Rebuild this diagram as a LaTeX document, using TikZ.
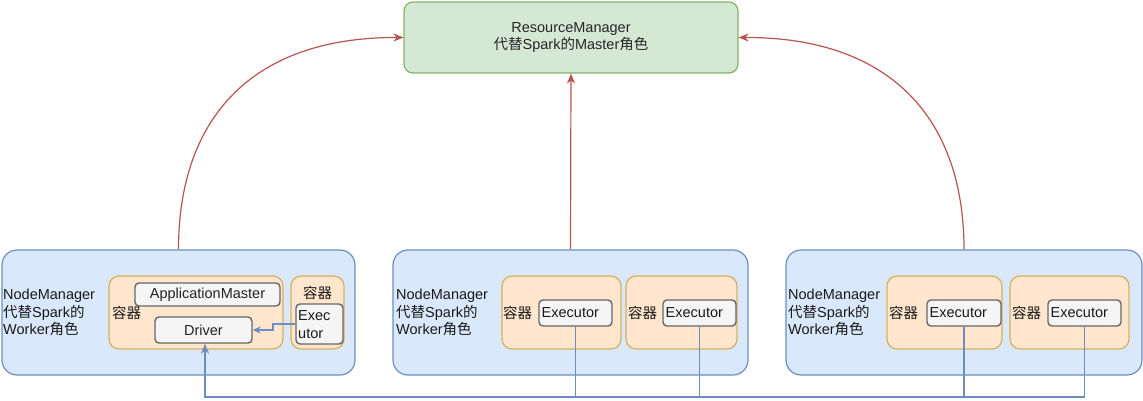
\documentclass[tikz,border=0pt]{standalone}
\usepackage{fontspec}
\setmainfont{Liberation Sans}
\newfontfamily\cjkf{Noto Sans CJK SC}
\newcommand{\zhs}[1]{{\cjkf #1}}
\usetikzlibrary{arrows.meta}
\definecolor{bfill}{HTML}{DAE8FC}
\definecolor{bline}{HTML}{6C8EBF}
\definecolor{ofill}{HTML}{FFE6CC}
\definecolor{oline}{HTML}{D6B060}
\definecolor{gfill}{HTML}{D5E8D4}
\definecolor{gline}{HTML}{82B366}
\definecolor{wfill}{HTML}{F5F5F5}
\definecolor{wline}{HTML}{666666}
\definecolor{wtext}{HTML}{222222}
\definecolor{redl}{HTML}{B85450}
\tikzset{
  base/.style={inner sep=0pt, line width=1.2pt, font={\fontsize{14.5}{17.5}\selectfont}},
  nmbox/.style={base, draw=bline, fill=bfill, rounded corners=15pt, minimum width=#1, minimum height=125},
  rmbox/.style={base, draw=gline, fill=gfill, rounded corners=9pt, minimum width=334, minimum height=71, align=center, text=black!85},
  ctbox/.style={base, draw=oline, fill=ofill, rounded corners=10pt, minimum width=#1, minimum height=73},
  grbox/.style={base, draw=wline, fill=wfill, rounded corners=4pt, line width=1.4pt, text=wtext},
  txt/.style={inner sep=0pt, font={\fontsize{14.5}{17.5}\selectfont}, align=left, text=black!90},
  redarr/.style={draw=redl, line width=1.2pt, -{Stealth[length=10pt,width=8pt]}},
  bluearr/.style={draw=bline, line width=1.6pt, -{Stealth[length=10pt,width=8pt]}},
  bluethin/.style={draw=bline, line width=1.2pt},
}
\begin{document}
\begin{tikzpicture}[x=1pt,y=-1pt]
\useasboundingbox (0,0) rectangle (1143,400);
% ResourceManager
\node[rmbox] (rm) at (571,37.5) {ResourceManager\\\zhs{代替}Spark\zhs{的}Master\zhs{角色}};
% NodeManagers
\node[nmbox=353] (nm1) at (178.5,312.5) {};
\node[nmbox=355] (nm2) at (570.5,312.5) {};
\node[nmbox=356] (nm3) at (964,312.5) {};
\node[txt, anchor=west] (t1) at (3,312.5) {NodeManager\\\zhs{代替}Spark\zhs{的}\\Worker\zhs{角色}};
\node[txt, anchor=west] (t2) at (396,312.5) {NodeManager\\\zhs{代替}Spark\zhs{的}\\Worker\zhs{角色}};
\node[txt, anchor=west] (t3) at (788,312.5) {NodeManager\\\zhs{代替}Spark\zhs{的}\\Worker\zhs{角色}};
% containers left
\node[ctbox=174] (c1a) at (196,312.5) {};
\node[grbox, minimum width=145, minimum height=23] (am) at (207.5,294.5) {ApplicationMaster};
\node[grbox, minimum width=97, minimum height=26] (drv) at (203.5,330) {Driver};
\node[txt, anchor=west] (l1a) at (112,313) {\zhs{容器}};
\node[ctbox=53] (c1b) at (317.5,312.5) {};
\node[txt] (l1b) at (317.5,293) {\zhs{容器}};
\node[grbox, minimum width=47, minimum height=40] (ex1) at (319.5,324) {};
\node[txt, anchor=west] (ex1t) at (298,324.5) {Exec\\utor};
% containers middle
\node[ctbox=119] (c2a) at (561.5,312.5) {};
\node[txt, anchor=west] (l2a) at (503,313) {\zhs{容器}};
\node[grbox, minimum width=73, minimum height=26] (ex2a) at (575.5,313) {};
\node[txt, anchor=west] at (541.5,313) {Executor};
\node[ctbox=111] (c2b) at (681.5,312.5) {};
\node[txt, anchor=west] (l2b) at (628,313) {\zhs{容器}};
\node[grbox, minimum width=73, minimum height=26] (ex2b) at (699.5,313) {};
\node[txt, anchor=west] at (665.5,313) {Executor};
% containers right
\node[ctbox=115] (c3a) at (944.5,312.5) {};
\node[txt, anchor=west] (l3a) at (889,313) {\zhs{容器}};
\node[grbox, minimum width=74, minimum height=26] (ex3a) at (964,313) {};
\node[txt, anchor=west] at (929.5,313) {Executor};
\node[ctbox=119] (c3b) at (1069.5,312.5) {};
\node[txt, anchor=west] (l3b) at (1012,313) {\zhs{容器}};
\node[grbox, minimum width=73, minimum height=26] (ex3b) at (1084.5,313) {};
\node[txt, anchor=west] at (1050.5,313) {Executor};
% red arrows to RM
\draw[redarr] (nm1.north) .. controls (178.5,120) and (250,37) .. (rm.west);
\draw[redarr] (nm2.north) -- (rm.south);
\draw[redarr] (nm3.north) .. controls (964,120) and (892,37) .. (rm.east);
% executor -> driver
\coordinate (bl) at (205,397);
\draw[bluethin] (ex2a.south) -- (ex2a.south |- bl);
\draw[bluethin] (ex2b.south) -- (ex2b.south |- bl);
\draw[bluethin] (ex3a.south) -- (ex3a.south |- bl);
\draw[bluethin] (ex3b.south) -- (ex3b.south |- bl);
\draw[bluearr] (ex3b.south |- bl) -- (bl) -- (bl |- drv.south);
\draw[draw=bline, line width=1.2pt, -{Stealth[length=8pt,width=7pt]}] (ex1.west) -- (273,324) -- (273,330) -- (drv.east);
\end{tikzpicture}
\end{document}
